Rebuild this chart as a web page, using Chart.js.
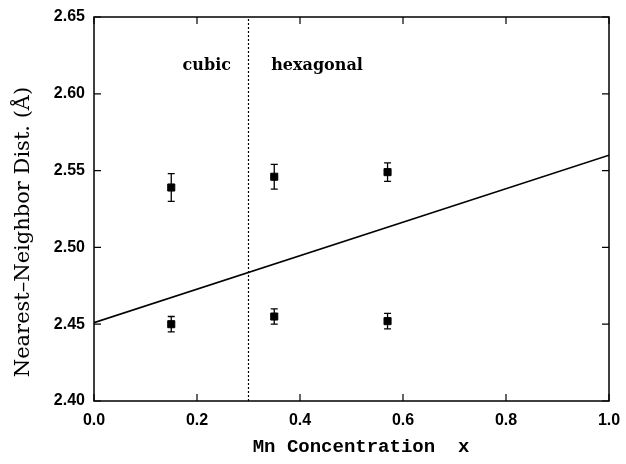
<!DOCTYPE html>
<html>
<head>
<meta charset="utf-8">
<script src="https://cdn.jsdelivr.net/npm/chart.js@4"></script>
<style>
  html, body { margin: 0; padding: 0; background: #fff; }
  #wrap { width: 626px; height: 464px; }
</style>
</head>
<body>
<div id="wrap"><canvas id="chart" width="626" height="464"></canvas></div>
<script>
// data
const xValues = [0.15, 0.35, 0.57];
const upperDist = [2.539, 2.546, 2.549];
const upperErr = [0.009, 0.008, 0.006];
const lowerDist = [2.450, 2.455, 2.452];
const lowerErr = [0.005, 0.005, 0.005];
const fitX = [0.0, 1.0];
const fitY = [2.451, 2.560];
const phaseBoundary = 0.3;
const xTicks = [0.0, 0.2, 0.4, 0.6, 0.8, 1.0];
const yTicks = [2.40, 2.45, 2.50, 2.55, 2.60, 2.65];
const phaseLabels = ['cubic', 'hexagonal'];

const toPoints = (xs, ys) => xs.map((x, i) => ({ x: x, y: ys[i] }));

// error bars, inward ticks, frame and text
const extras = {
  id: 'extras',
  beforeDatasetsDraw(chart) {
    const ctx = chart.ctx, xs = chart.scales.x, ys = chart.scales.y;
    ctx.save();
    ctx.strokeStyle = '#000';
    ctx.lineWidth = 1.3;
    [[upperDist, upperErr], [lowerDist, lowerErr]].forEach(([vals, errs]) => {
      xValues.forEach((x, i) => {
        const px = xs.getPixelForValue(x);
        const top = ys.getPixelForValue(vals[i] + errs[i]);
        const bot = ys.getPixelForValue(vals[i] - errs[i]);
        ctx.beginPath();
        ctx.moveTo(px, top); ctx.lineTo(px, bot);
        ctx.moveTo(px - 3.5, top); ctx.lineTo(px + 3.5, top);
        ctx.moveTo(px - 3.5, bot); ctx.lineTo(px + 3.5, bot);
        ctx.stroke();
      });
    });
    ctx.restore();
  },
  afterDraw(chart) {
    const ctx = chart.ctx, xs = chart.scales.x, ys = chart.scales.y;
    const a = chart.chartArea;
    ctx.save();
    ctx.strokeStyle = '#000';
    ctx.lineWidth = 1.5;
    ctx.strokeRect(a.left, a.top, a.right - a.left, a.bottom - a.top);
    ctx.lineWidth = 1.2;
    ctx.beginPath();
    xTicks.forEach(t => {
      const px = xs.getPixelForValue(t);
      ctx.moveTo(px, a.bottom); ctx.lineTo(px, a.bottom - 7);
      ctx.moveTo(px, a.top); ctx.lineTo(px, a.top + 7);
    });
    yTicks.forEach(t => {
      const py = ys.getPixelForValue(t);
      ctx.moveTo(a.left, py); ctx.lineTo(a.left + 7, py);
      ctx.moveTo(a.right, py); ctx.lineTo(a.right - 7, py);
    });
    ctx.stroke();

    ctx.fillStyle = '#000';
    ctx.textAlign = 'center';
    ctx.textBaseline = 'middle';
    ctx.font = 'bold 16px "DejaVu Serif"';
    ctx.fillText(phaseLabels[0], xs.getPixelForValue(0.219), ys.getPixelForValue(2.618));
    ctx.fillText(phaseLabels[1], xs.getPixelForValue(0.433), ys.getPixelForValue(2.618));

    // axis titles
    ctx.font = 'bold 19px "Liberation Mono"';
    ctx.fillText('Mn Concentration  x', 361, 447);
    ctx.translate(24, 232);
    ctx.rotate(-Math.PI / 2);
    ctx.font = '21px "DejaVu Serif"';
    ctx.fillText('Nearest\u2013Neighbor Dist. (\u00c5)', 0, 0);
    ctx.restore();
  }
};

new Chart(document.getElementById('chart'), {
  type: 'scatter',
  data: {
    datasets: [
      {
        type: 'line',
        data: toPoints(fitX, fitY),
        borderColor: '#000',
        borderWidth: 1.6,
        pointRadius: 0,
        fill: false
      },
      {
        type: 'line',
        data: toPoints([phaseBoundary, phaseBoundary], [2.40, 2.65]),
        borderColor: '#000',
        borderWidth: 1.2,
        borderDash: [2, 2],
        pointRadius: 0,
        fill: false
      },
      {
        data: toPoints(xValues, upperDist),
        pointStyle: 'rect',
        pointRadius: 5,
        backgroundColor: '#000',
        borderColor: '#000',
        borderWidth: 1
      },
      {
        data: toPoints(xValues, lowerDist),
        pointStyle: 'rect',
        pointRadius: 5,
        backgroundColor: '#000',
        borderColor: '#000',
        borderWidth: 1
      }
    ]
  },
  options: {
    responsive: false,
    animation: false,
    layout: { padding: { top: 17, right: 17, left: 0, bottom: 0 } },
    plugins: { legend: { display: false }, tooltip: { enabled: false } },
    scales: {
      x: {
        type: 'linear',
        min: 0, max: 1,
        afterFit: s => { s.height = 63; s.paddingLeft = 0; s.paddingRight = 0; },
        afterBuildTicks: s => { s.ticks = xTicks.map(v => ({ value: v })); },
        grid: { display: false, drawTicks: false, tickLength: 0 },
        border: { display: false },
        ticks: {
          color: '#000',
          padding: 10,
          maxRotation: 0,
          font: { family: 'Liberation Sans', weight: 'bold', size: 16 },
          callback: v => v.toFixed(1)
        }
      },
      y: {
        type: 'linear',
        min: 2.40, max: 2.65,
        afterFit: s => { s.width = 94; s.paddingTop = 0; s.paddingBottom = 0; },
        afterBuildTicks: s => { s.ticks = yTicks.map(v => ({ value: v })); },
        grid: { display: false, drawTicks: false, tickLength: 0 },
        border: { display: false },
        ticks: {
          color: '#000',
          padding: 9,
          font: { family: 'Liberation Sans', weight: 'bold', size: 16 },
          callback: v => v.toFixed(2)
        }
      }
    }
  },
  plugins: [extras]
});
</script>
</body>
</html>
